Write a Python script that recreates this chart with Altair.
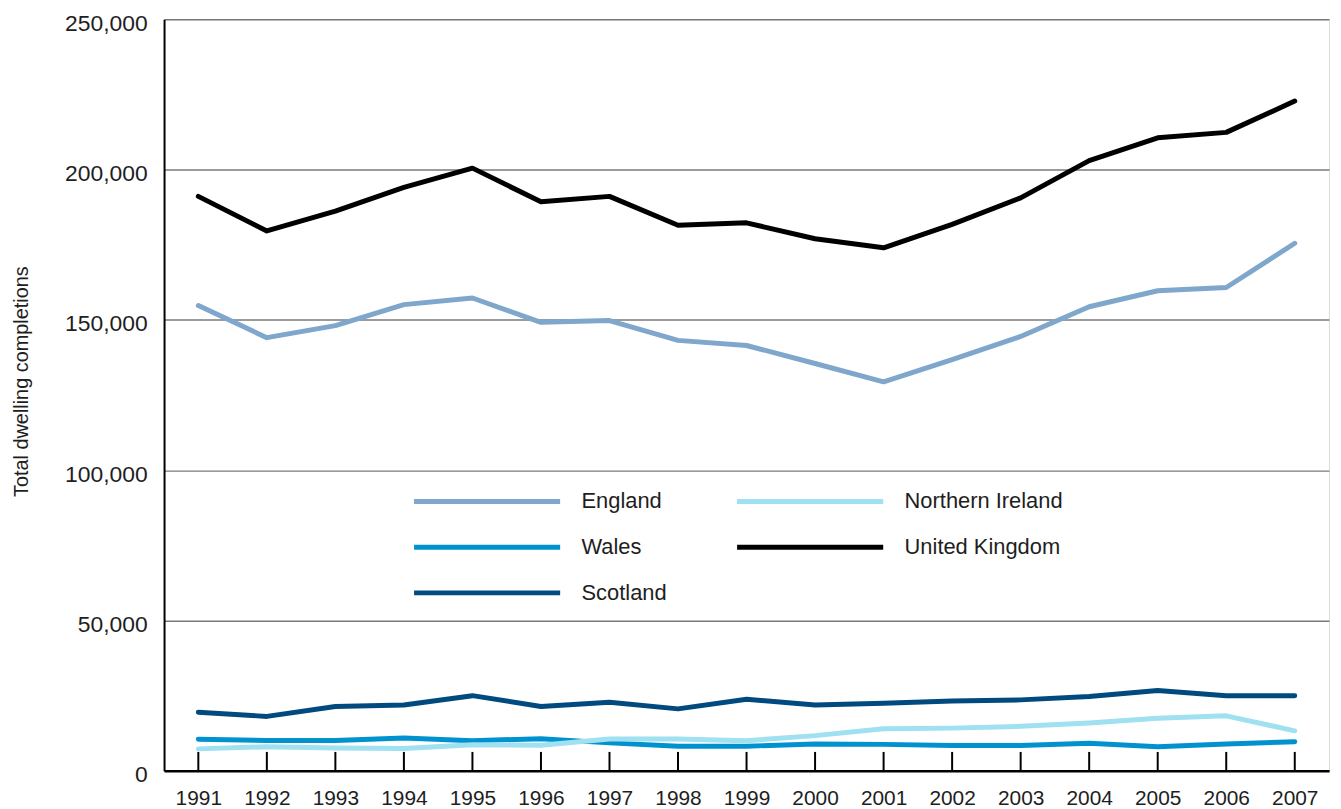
import altair as alt
import pandas as pd

years = [str(y) for y in range(1991, 2008)]
england = [154800, 144100, 148100, 155100, 157300, 149200, 149800, 143200, 141500,
           135500, 129400, 136800, 144500, 154400, 159700, 160800, 175500]
wales = [10500, 10100, 10100, 10900, 10000, 10700, 9300, 8200, 8200,
         8900, 8800, 8400, 8400, 9200, 8000, 8900, 9700]
scotland = [19500, 18100, 21400, 21900, 25000, 21400, 22800, 20600, 23800,
            21900, 22500, 23200, 23600, 24700, 26700, 25000, 25000]
northern_ireland = [7300, 8000, 7600, 7400, 8700, 8500, 10600, 10600, 10000,
                    11700, 14000, 14200, 14800, 15900, 17500, 18300, 13300]
united_kingdom = [191100, 179600, 186200, 194100, 200500, 189300, 191100, 181500, 182300,
                  177000, 174000, 181800, 190600, 203000, 210600, 212400, 222800]

series_names = ["England", "Wales", "Scotland", "Northern Ireland", "United Kingdom"]
series_values = [england, wales, scotland, northern_ireland, united_kingdom]
series_colors = ["#7fa6cb", "#0092cf", "#004a7f", "#9fe0f1", "#000000"]
y_ticks = [0, 50000, 100000, 150000, 200000, 250000]

rows = []
for name, vals in zip(series_names, series_values):
    for yr, v in zip(years, vals):
        rows.append({"Year": yr, "Country": name, "Completions": v})
df = pd.DataFrame(rows)
ticks_df = pd.DataFrame({"Year": years})

W, H = 1172, 756
FONT = "Liberation Sans"
TXT = "#1e1e1e"

x_enc = alt.X(
    "Year:O",
    scale=alt.Scale(type="point", padding=0.5),
    axis=alt.Axis(title=None, labelAngle=0, ticks=False, grid=False,
                  domainColor="black", domainWidth=2.5,
                  labelFontSize=21, labelPadding=17, labelColor=TXT, labelFont=FONT),
)

lines = alt.Chart(df).mark_line(strokeWidth=5, strokeCap="round", strokeJoin="round").encode(
    x=x_enc,
    y=alt.Y(
        "Completions:Q",
        scale=alt.Scale(domain=[0, 250000], nice=False),
        axis=alt.Axis(values=y_ticks, format=",d", grid=True, gridColor="#7a7a7a", gridWidth=1.5,
                      ticks=False, domainColor="black", domainWidth=2,
                      labelFontSize=23, labelPadding=17, labelOffset=4,
                      labelColor=TXT, labelFont=FONT,
                      title="Total dwelling completions", titleFontSize=20, titleFontWeight="normal",
                      titleColor=TXT, titleFont=FONT, titleAngle=-90, titleX=-143, titleY=364,
                      titleAlign="center", titleBaseline="middle"),
    ),
    color=alt.Color(
        "Country:N",
        scale=alt.Scale(domain=series_names, range=series_colors),
        sort=series_names,
        legend=alt.Legend(
            title=None, orient="none", legendX=250, legendY=470, columns=2,
            symbolType="M-6,0H6", symbolSize=600, symbolStrokeWidth=5,
            symbolOffset=60,
            labelFontSize=22, labelFont=FONT, labelColor=TXT, labelOffset=80,
            rowPadding=20, columnPadding=60, padding=0,
        ),
    ),
    detail="Country:N",
)

tick_rules = alt.Chart(ticks_df).mark_rule(color="black", strokeWidth=2).encode(
    x=alt.X("Year:O"),
    y=alt.value(H - 19),
    y2=alt.value(H),
)

chart = alt.layer(lines, tick_rules).properties(
    width=W, height=H,
    padding={"left": 157, "top": 9, "right": 4, "bottom": 36},
    autosize=alt.AutoSizeParams(type="none"),
).configure_view(stroke=None).configure(background="white")

chart.save("out.html", embed_options={"renderer": "svg", "actions": False})
